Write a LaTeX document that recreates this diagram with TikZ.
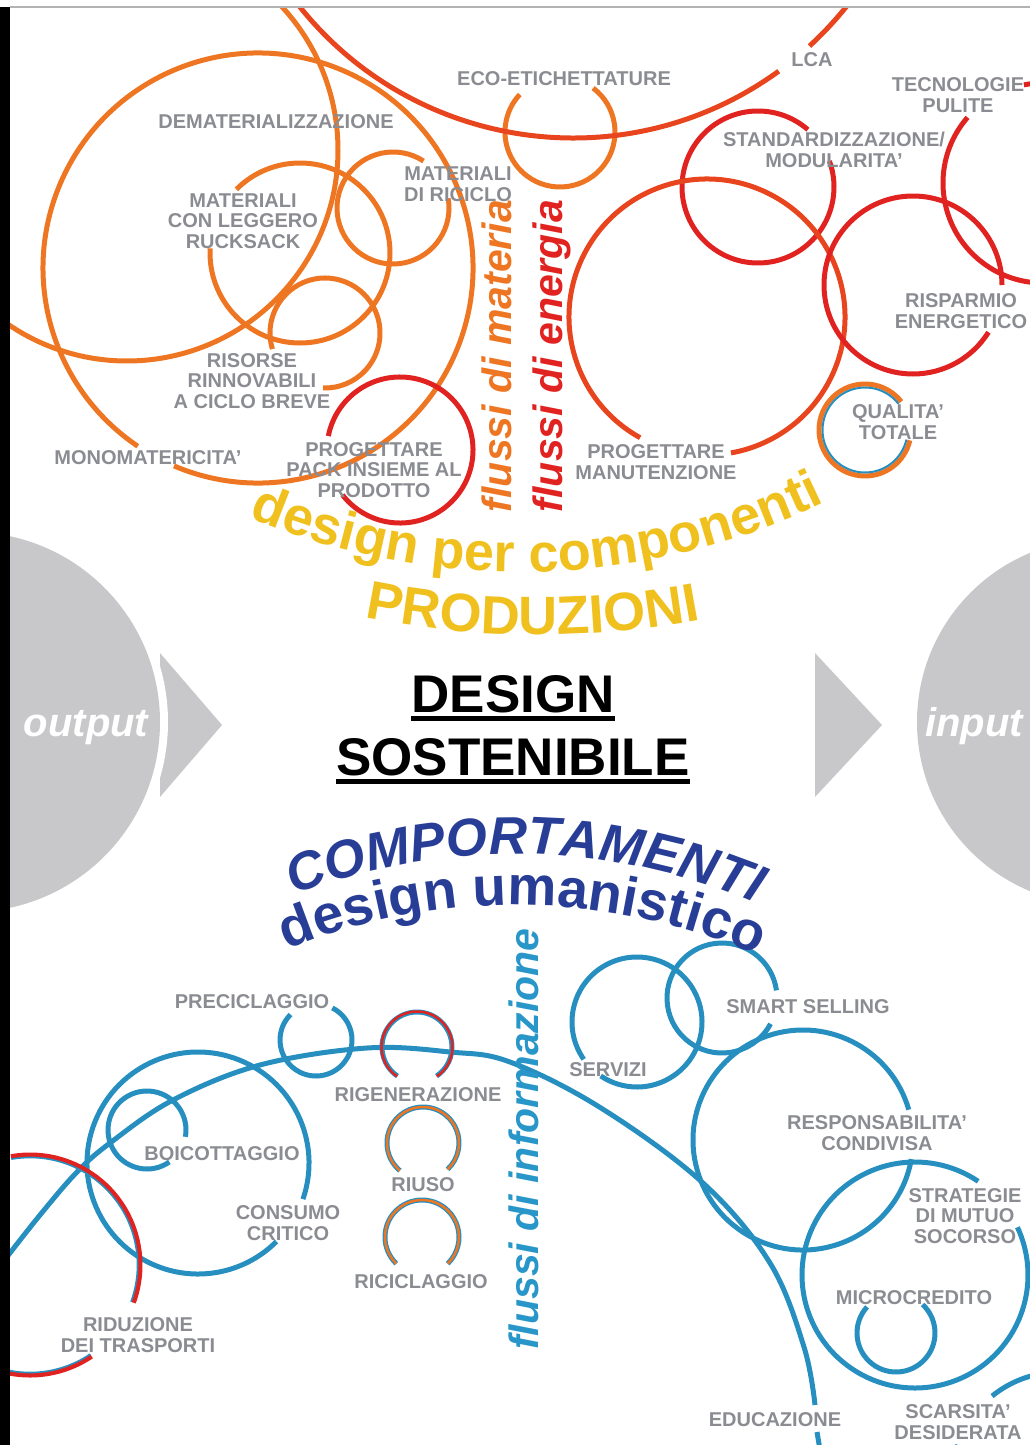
\documentclass[tikz,border=0pt]{standalone}
\usepackage{fontspec}
\setmainfont{Liberation Sans}
\usetikzlibrary{decorations.text}
\definecolor{orng}{RGB}{238,118,35}
\definecolor{rd}{RGB}{224,35,32}
\definecolor{rorng}{RGB}{232,68,30}
\definecolor{blu}{RGB}{38,143,192}
\definecolor{lgray}{RGB}{138,140,145}
\definecolor{cgray}{RGB}{200,200,202}
\definecolor{ylw}{RGB}{240,192,30}
\definecolor{dblu}{RGB}{40,62,150}
\definecolor{fltxtblu}{RGB}{40,150,200}
\newcommand{\myarc}[6][]{\draw[#1] ([shift={(#5:#4)}]#2,#3) arc[start angle=#5,end angle=#6,radius=#4];}
\newcommand{\labelfont}{\fontsize{20}{20.5}\selectfont\bfseries}
\newcommand{\flfont}{\fontsize{41}{41}\selectfont\bfseries\itshape}
\newcommand{\dsfont}{\fontsize{53}{53}\selectfont\bfseries}
\newcommand{\iofont}{\fontsize{40}{40}\selectfont\bfseries\itshape}
\newcommand{\dpcfont}{\fontsize{54}{54}\selectfont\bfseries}
\newcommand{\prodfont}{\fontsize{54}{54}\selectfont\bfseries}
\newcommand{\compfont}{\fontsize{53}{53}\selectfont\bfseries\itshape}
\newcommand{\umafont}{\fontsize{55}{55}\selectfont\bfseries}
\begin{document}
\begin{tikzpicture}[x=1pt,y=1pt,
  oln/.style={draw=orng,line width=5pt},
  rln/.style={draw=rd,line width=5pt},
  roln/.style={draw=rorng,line width=5pt},
  bln/.style={draw=blu,line width=5pt},
  lbl/.style={font=\labelfont,text=lgray,align=center,inner sep=0pt},
  flx/.style={rotate=90,font=\flfont,inner sep=0pt},
  big/.style={font=\dsfont,anchor=base,inner sep=0pt},
  io/.style={font=\iofont,text=white,anchor=base,inner sep=0pt},
  ul/.style={line width=5pt}]
\useasboundingbox (0,0) rectangle (1030,-1445);
\begin{scope}
\clip (0,-7) rectangle (1030,-1445);
% grey side discs and chevrons
\fill[cgray] (160,-653) -- (222,-725) -- (160,-797) -- cycle;
\fill[white] (-30,-722) circle[radius=198];
\fill[cgray] (-30,-722) circle[radius=190];
\fill[cgray] (815,-653) -- (882,-725) -- (815,-797) -- cycle;
\fill[cgray] (1100,-722) circle[radius=183];
\node[io] (out) at (86,-736) {output};
\node[io] (inp) at (974,-736) {input};
% ---- top: material and energy flows
\myarc[oln]{258}{-268}{215}{-113}{236}
\myarc[oln]{127}{-150}{211}{50}{-130}
\myarc[oln]{300}{-253}{90}{135}{-183}
\myarc[oln]{393}{-208}{56}{57}{370}
\myarc[oln]{325}{-333}{55}{197}{-92}
\myarc[oln]{560}{-132}{55}{53}{-223}
\myarc[rln]{400}{-450}{73}{169}{-142}
\myarc[roln]{573}{212}{350}{-143}{-54}
\myarc[roln]{573}{212}{350}{-47.5}{-34}
\myarc[rln]{758}{-187}{76}{49}{380}
\myarc[roln]{707}{-317}{138}{241}{-80}
\myarc[rln]{913}{-285}{89}{0}{328}
\myarc[rln]{1043}{-183}{100}{139}{461}
\myarc[oln]{865}{-430}{46}{38}{347}
\myarc[draw=blu,line width=2pt]{865}{-430}{42.5}{38}{347}
% ---- bottom: information flows
\draw[bln] plot[smooth,tension=0.6] coordinates {(3,-1262) (40,-1215) (77,-1172) (110,-1143) (173,-1100) (260,-1065) (367,-1048) (450,-1052) (510,-1062) (601,-1108) (703,-1183) (770,-1263) (804,-1347) (815,-1405)};
\draw[bln] (817,-1432) -- (820,-1450);
\myarc[bln]{198}{-1163}{111}{-19}{315}
\myarc[bln]{147}{-1130}{39}{-10}{305}
\myarc[bln]{316}{-1040}{36}{63}{-225}
\myarc[bln]{417}{-1047}{35}{236}{-56}
\myarc[draw=rd,line width=2.5pt]{417}{-1047}{35.5}{236}{-56}
\myarc[bln]{423}{-1143}{36}{230}{-47}
\myarc[draw=orng,line width=2.5pt]{423}{-1143}{36}{230}{-47}
\myarc[bln]{422}{-1237}{37}{226}{-46}
\myarc[draw=orng,line width=2.5pt]{422}{-1237}{37}{226}{-46}
\myarc[rln]{30}{-1265}{110}{100}{-20}
\myarc[rln]{30}{-1265}{110}{-56}{-110}
\myarc[draw=blu,line width=1.6pt]{30}{-1265}{107.5}{100}{-20}
\myarc[draw=blu,line width=1.6pt]{30}{-1265}{107.5}{-56}{-110}
\myarc[bln]{637}{-1022}{65}{215}{-124}
\myarc[bln]{722}{-998}{55}{8}{332}
\myarc[bln]{803}{-1140}{110}{16}{350}
\myarc[bln]{915}{-1275}{113}{56}{385}
\myarc[bln]{896}{-1333}{39}{47}{-222}
\myarc[bln]{1060}{-1480}{108}{129}{60}
\myarc[bln]{1060}{-1480}{108}{161}{200}
% ---- labels
\node[lbl] (eco) at (564,-79) {ECO-ETICHETTATURE};
\node[lbl] (lca) at (812,-60) {LCA};
\node[lbl] (tec) at (958,-95) {TECNOLOGIE\\PULITE};
\node[lbl] (dem) at (276,-122) {DEMATERIALIZZAZIONE};
\node[lbl] (std) at (834,-150) {STANDARDIZZAZIONE/\\MODULARITA'};
\node[lbl] (mric) at (458,-184) {MATERIALI\\DI RICICLO};
\node[lbl] (mleg) at (243,-221) {MATERIALI\\CON LEGGERO\\RUCKSACK};
\node[lbl] (risp) at (961,-311) {RISPARMIO\\ENERGETICO};
\node[lbl] (riso) at (252,-381) {RISORSE\\RINNOVABILI\\A CICLO BREVE};
\node[lbl] (qual) at (898,-422) {QUALITA'\\TOTALE};
\node[lbl] (mono) at (148,-458) {MONOMATERICITA'};
\node[lbl] (pack) at (374,-470) {PROGETTARE\\PACK INSIEME AL\\PRODOTTO};
\node[lbl] (manu) at (656,-462) {PROGETTARE\\MANUTENZIONE};
\node[lbl] (prec) at (252,-1002) {PRECICLAGGIO};
\node[lbl] (rige) at (418,-1095) {RIGENERAZIONE};
\node[lbl] (boic) at (222,-1154) {BOICOTTAGGIO};
\node[lbl] (rius) at (423,-1185) {RIUSO};
\node[lbl] (cons) at (288,-1223) {CONSUMO\\CRITICO};
\node[lbl] (rici) at (421,-1282) {RICICLAGGIO};
\node[lbl] (ridu) at (138,-1335) {RIDUZIONE\\DEI TRASPORTI};
\node[lbl] (serv) at (608,-1070) {SERVIZI};
\node[lbl] (smar) at (808,-1007) {SMART SELLING};
\node[lbl] (resp) at (877,-1133) {RESPONSABILITA'\\CONDIVISA};
\node[lbl] (stra) at (965,-1216) {STRATEGIE\\DI MUTUO\\SOCORSO};
\node[lbl] (micr) at (914,-1298) {MICROCREDITO};
\node[lbl] (educ) at (775,-1420) {EDUCAZIONE};
\node[lbl] (scar) at (958,-1422) {SCARSITA'\\DESIDERATA};
% ---- flow captions
\node[flx,text=orng] (fmat) at (497,-356) {flussi di materia};
\node[flx,text=rd] (fene) at (552,-356) {flussi di energia};
\node[flx,text=fltxtblu] (finf) at (524,-1139) {flussi di informazione};
% ---- curved captions
\path[decorate,decoration={text along path,text align=center,text color=ylw,
  text={|\dpcfont|design per componenti}}]
  ([shift={(-118.5:702)}]520,130) arc[start angle=-118.5,end angle=-58.5,radius=702];
\path[decorate,decoration={text along path,text align=center,text color=ylw,
  text={|\prodfont|PRODUZIONI}}]
  ([shift={(-106:869)}]540,234) arc[start angle=-106,end angle=-75,radius=869];
\path[decorate,decoration={text along path,text align=center,text color=dblu,
  text={|\compfont|COMPORTAMENTI}}]
  ([shift={(119:616)}]515,-1470) arc[start angle=119,end angle=59,radius=616];
\path[decorate,decoration={text along path,text align=center,text color=dblu,
  text={|\umafont|design umanistico}}]
  ([shift={(119.3:610)}]515,-1515) arc[start angle=119.3,end angle=59.3,radius=610];
% ---- title
\node[big] (t1) at (513,-712) {DESIGN};
\node[big] (t2) at (513,-775) {SOSTENIBILE};
\draw[ul] ([yshift=-6pt]t1.base west) -- ([yshift=-6pt]t1.base east);
\draw[ul] ([yshift=-6pt]t2.base west) -- ([yshift=-6pt]t2.base east);
\end{scope}
% frame
\draw[gray!60,line width=1.2pt] (10,-7) -- (1030,-7);
\fill[black] (0,-7) rectangle (10,-1445);
\end{tikzpicture}
\end{document}
